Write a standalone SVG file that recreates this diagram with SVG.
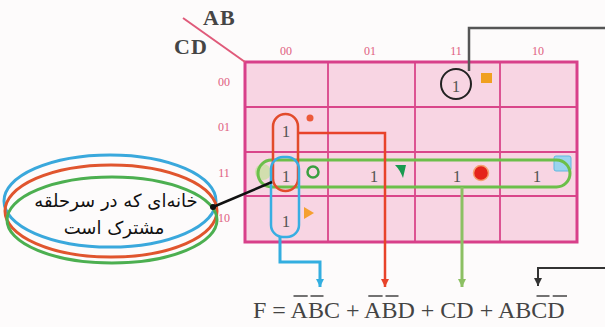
<svg xmlns="http://www.w3.org/2000/svg" width="605" height="327" viewBox="0 0 605 327">
<defs>
<style>
.hdr{font-family:"Liberation Serif",serif;font-size:12px;fill:#e0607f;text-anchor:middle}
.one{font-family:"Liberation Serif",serif;font-size:17px;fill:#555;text-anchor:middle}
.var{font-family:"Liberation Serif",serif;font-size:22px;font-weight:bold;fill:#454545;letter-spacing:1px}
.gl{stroke:#d9468a;stroke-width:1.8;fill:none}
.conn{fill:none}
.ov{stroke:#444;stroke-width:1.5}
.fa{font-family:"DejaVu Sans","Noto Sans",sans-serif;font-size:18px;fill:#111;text-anchor:middle}
</style>
<marker id="ah-blue" viewBox="0 0 10 10" refX="10" refY="5" markerWidth="8" markerHeight="8" markerUnits="userSpaceOnUse" orient="auto"><path d="M0,0 L10,5 L0,10 z" fill="#33aee0"/></marker>
<marker id="ah-red" viewBox="0 0 10 10" refX="10" refY="5" markerWidth="8" markerHeight="8" markerUnits="userSpaceOnUse" orient="auto"><path d="M0,0 L10,5 L0,10 z" fill="#e8432a"/></marker>
<marker id="ah-green" viewBox="0 0 10 10" refX="10" refY="5" markerWidth="8" markerHeight="8" markerUnits="userSpaceOnUse" orient="auto"><path d="M0,0 L10,5 L0,10 z" fill="#8cc063"/></marker>
<marker id="ah-black" viewBox="0 0 10 10" refX="10" refY="5" markerWidth="8" markerHeight="8" markerUnits="userSpaceOnUse" orient="auto"><path d="M0,0 L10,5 L0,10 z" fill="#333"/></marker>
</defs>
<rect width="605" height="327" fill="#fdfbfb"/>

<g id="kmap-grid">
<rect x="245" y="62" width="332" height="180" fill="#f8d5e3"/>
<line class="gl" x1="328" y1="62" x2="328" y2="242"/>
<line class="gl" x1="415" y1="62" x2="415" y2="242"/>
<line class="gl" x1="500" y1="62" x2="500" y2="242"/>
<line class="gl" x1="245" y1="107" x2="577" y2="107"/>
<line class="gl" x1="245" y1="152" x2="577" y2="152"/>
<line class="gl" x1="245" y1="196" x2="577" y2="196"/>
<rect x="245" y="62" width="332" height="180" fill="none" stroke="#d8408a" stroke-width="3"/>
</g>

<g id="axis-labels">
<line x1="183" y1="18" x2="245" y2="62" stroke="#e05a7a" stroke-width="2"/>
<text class="var" x="203" y="25">AB</text>
<text class="var" x="174" y="54">CD</text>
<text class="hdr" x="286" y="55">00</text>
<text class="hdr" x="370" y="55">01</text>
<text class="hdr" x="456" y="55">11</text>
<text class="hdr" x="538" y="55">10</text>
<text class="hdr" x="224" y="86">00</text>
<text class="hdr" x="224" y="131">01</text>
<text class="hdr" x="224" y="177">11</text>
<text class="hdr" x="224" y="222">10</text>
</g>

<g id="cells">
<text class="one" x="456" y="92">1</text>
<text class="one" x="286" y="137">1</text>
<text class="one" x="286" y="182">1</text>
<text class="one" x="286" y="227">1</text>
<text class="one" x="374" y="182">1</text>
<text class="one" x="457" y="182">1</text>
<text class="one" x="537" y="182">1</text>
</g>

<g id="markers">
<rect x="481" y="73" width="11" height="10" fill="#f0a020"/>
<circle cx="310" cy="118" r="3.5" fill="#ec5a3a"/>
<path d="M304,207 L314,213 L304,219 z" fill="#f5a030"/>
<circle cx="263" cy="172" r="8" fill="#c8e0a0" opacity="0.8"/>
<circle cx="313" cy="172" r="5.5" fill="none" stroke="#3aa040" stroke-width="2.5"/>
<path d="M395,165 L406,165 L403,178 Q400,170 395,165 z" fill="#1a9a50"/>
<circle cx="481" cy="173" r="7.5" fill="#e5231b" stroke="#f5a070" stroke-width="1.5"/>
<rect x="554" y="156" width="17" height="15" rx="2" fill="#9ad4ef" stroke="#60b8e0" stroke-width="1"/>
</g>

<g id="loops">
<rect id="loop-green" x="258" y="160" width="312" height="27" rx="13.5" fill="none" stroke="#6cbf4a" stroke-width="3"/>
<rect id="loop-red" x="273" y="114" width="25" height="77" rx="12.5" fill="none" stroke="#e24b2b" stroke-width="2.5"/>
<rect id="loop-blue" x="271" y="157" width="28" height="80" rx="12" fill="none" stroke="#38aee2" stroke-width="2.5"/>
<circle id="loop-black" cx="456" cy="84" r="15" fill="none" stroke="#222" stroke-width="2"/>
</g>

<g id="annotation">
<ellipse cx="110" cy="201" rx="106" ry="46" fill="none" stroke="#3aa8dc" stroke-width="3"/>
<ellipse cx="111" cy="211" rx="106" ry="46" fill="none" stroke="#e0552e" stroke-width="3"/>
<ellipse cx="112" cy="220" rx="105" ry="43" fill="none" stroke="#4caf50" stroke-width="3"/>
<text class="fa" x="116" y="207">خانه‌ای که در سرحلقه</text>
<text class="fa" x="114" y="234">مشترک است</text>
</g>

<g id="connectors">
<path class="conn" d="M213,207 L272,182" stroke="#111" stroke-width="2.5"/>
<circle cx="213" cy="207" r="3" fill="#111"/>
<path class="conn" d="M469,71 L469,28 L605,28" stroke="#555" stroke-width="2.5"/>
<path class="conn" d="M298,133 L385,133 L385,287" stroke="#e8432a" stroke-width="2.5" marker-end="url(#ah-red)"/>
<path class="conn" d="M280,236 L280,262 L320,262 L320,287" stroke="#33aee0" stroke-width="3" marker-end="url(#ah-blue)"/>
<path class="conn" d="M462,187 L462,287" stroke="#8cc063" stroke-width="3" marker-end="url(#ah-green)"/>
<path class="conn" d="M605,268 L538,268 L538,286" stroke="#333" stroke-width="2" marker-end="url(#ah-black)"/>
</g>

<g id="formula">
<text x="253" y="318" font-family="Liberation Serif, serif" font-size="24" fill="#444">F = ABC + ABD + CD + ABCD</text>
<line class="ov" x1="293.5" y1="296" x2="307.7" y2="296"/>
<line class="ov" x1="310.5" y1="296" x2="323.5" y2="296"/>
<line class="ov" x1="368.3" y1="296" x2="382.6" y2="296"/>
<line class="ov" x1="385.5" y1="296" x2="398.5" y2="296"/>
<line class="ov" x1="536.5" y1="296" x2="549.5" y2="296"/>
<line class="ov" x1="552.7" y1="296" x2="567" y2="296"/>
</g>
</svg>
